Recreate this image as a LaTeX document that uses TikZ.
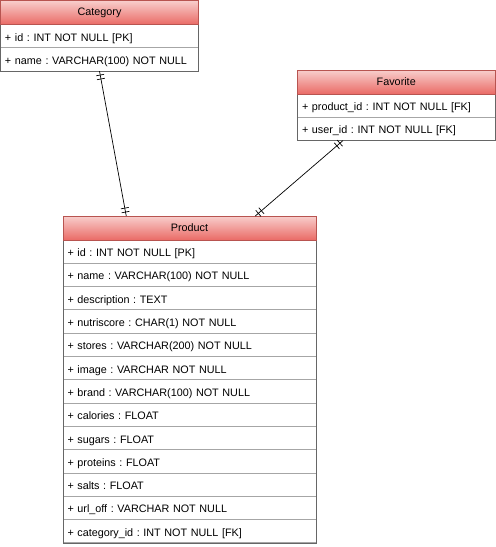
\documentclass[tikz,border=0pt]{standalone}
\usepackage{fontspec}
\setmainfont{Liberation Sans}
\usetikzlibrary{calc}
\usetikzlibrary{decorations.markings}
\definecolor{headtop}{HTML}{F8CECC}
\definecolor{headbot}{HTML}{EA6B66}
\definecolor{headline}{HTML}{B85450}
\definecolor{boxline}{HTML}{666666}
\definecolor{rowline}{HTML}{A6A6A6}
\frenchspacing

\begin{document}
\begin{tikzpicture}[x=1pt, y=-1pt,
  tablehead/.style={draw=headline, top color=headtop, bottom color=headbot,
    minimum height=24, inner sep=0, outer sep=0, anchor=north west,
    font=\fontsize{10.8}{12}\selectfont},
  tablerow/.style={draw=rowline, line width=0.9pt, fill=white,
    minimum height=23.3, inner xsep=4.5pt, inner ysep=0, outer sep=0,
    anchor=north west, text height=10pt, text depth=0pt,
    align=left, font=\fontsize{10.8}{12}\selectfont},
  catrow/.style={tablerow, text width=189pt},
  favrow/.style={tablerow, text width=188.5pt},
  prodrow/.style={tablerow, text width=244pt},
  oneone/.style={line width=0.7pt, postaction={decorate, decoration={markings,
    mark=at position 4pt with {\draw[line width=0.7pt] (0,-4pt) -- (0,4pt);},
    mark=at position 8pt with {\draw[line width=0.7pt] (0,-4pt) -- (0,4pt);},
    mark=at position -4pt with {\draw[line width=0.7pt] (0,-4pt) -- (0,4pt);},
    mark=at position -8pt with {\draw[line width=0.7pt] (0,-4pt) -- (0,4pt);}}}}]

\useasboundingbox (0,0) rectangle (496,547);

\node[tablehead, minimum width=198] (cathead) at (0.5,0.5) {Category};
\node[catrow] (catid) at (cathead.south west) {+ id : INT NOT NULL [PK]};
\node[catrow] (catname) at (catid.south west) {+ name : VARCHAR(100) NOT NULL};
\draw[boxline] (cathead.south west) rectangle (catname.south east);
\draw[headline] (cathead.north west) rectangle (cathead.south east);

\node[tablehead, minimum width=197.5] (favhead) at (297.5,70) {Favorite};
\node[favrow] (favprod) at (favhead.south west) {+ product\_id : INT NOT NULL [FK]};
\node[favrow] (favuser) at (favprod.south west) {+ user\_id : INT NOT NULL [FK]};
\draw[boxline] (favhead.south west) rectangle (favuser.south east);
\draw[headline] (favhead.north west) rectangle (favhead.south east);

\node[tablehead, minimum width=253] (prodhead) at (63,216) {Product};
\node[prodrow] (prodid) at (prodhead.south west) {+ id : INT NOT NULL [PK]};
\node[prodrow] (prodname) at (prodid.south west) {+ name : VARCHAR(100) NOT NULL};
\node[prodrow] (proddesc) at (prodname.south west) {+ description : TEXT};
\node[prodrow] (prodnutri) at (proddesc.south west) {+ nutriscore : CHAR(1) NOT NULL};
\node[prodrow] (prodstores) at (prodnutri.south west) {+ stores : VARCHAR(200) NOT NULL};
\node[prodrow] (prodimage) at (prodstores.south west) {+ image : VARCHAR NOT NULL};
\node[prodrow] (prodbrand) at (prodimage.south west) {+ brand : VARCHAR(100) NOT NULL};
\node[prodrow] (prodcal) at (prodbrand.south west) {+ calories : FLOAT};
\node[prodrow] (prodsugar) at (prodcal.south west) {+ sugars : FLOAT};
\node[prodrow] (prodprot) at (prodsugar.south west) {+ proteins : FLOAT};
\node[prodrow] (prodsalt) at (prodprot.south west) {+ salts : FLOAT};
\node[prodrow] (produrl) at (prodsalt.south west) {+ url\_off : VARCHAR NOT NULL};
\node[prodrow] (prodcat) at (produrl.south west) {+ category\_id : INT NOT NULL [FK]};
\draw[boxline] (prodhead.south west) rectangle (prodcat.south east);
\draw[headline] (prodhead.north west) rectangle (prodhead.south east);

\draw[oneone] (catname.south) -- ($(prodhead.north west)!0.5!(prodhead.north)$);
\draw[oneone] ($(favuser.south west)!0.46!(favuser.south)$) -- ($(prodhead.north)!0.52!(prodhead.north east)$);
\end{tikzpicture}
\end{document}
